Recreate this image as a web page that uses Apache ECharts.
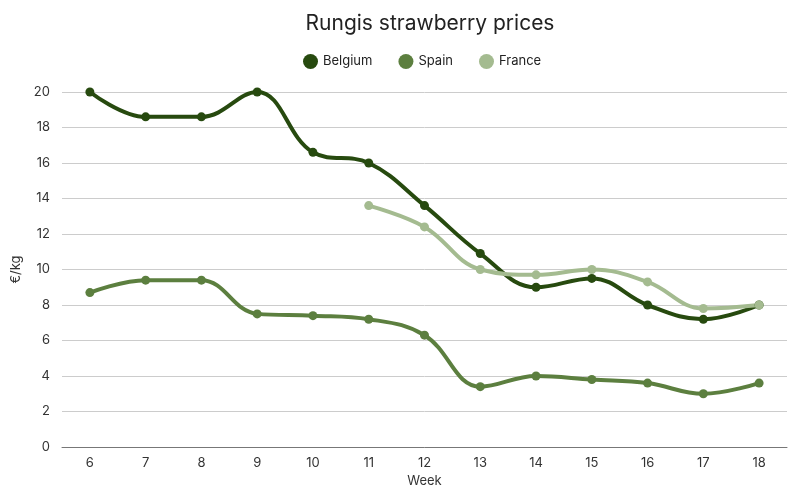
<!DOCTYPE html>
<html><head><meta charset="utf-8">
<script src="https://cdn.jsdelivr.net/npm/echarts@6/dist/echarts.min.js"></script>
<style>html,body{margin:0;padding:0;background:#fff}#c{width:800px;height:500px}</style>
</head><body><div id="c"></div>
<script>
const weeks = ['6','7','8','9','10','11','12','13','14','15','16','17','18'];
const belgium = [20, 18.6, 18.6, 20, 16.6, 16, 13.6, 10.9, 9, 9.5, 8, 7.2, 8];
const spain = [8.7, 9.4, 9.4, 7.5, 7.4, 7.2, 6.3, 3.4, 4, 3.8, 3.6, 3.0, 3.6];
const france = [null, null, null, null, null, 13.6, 12.4, 10, 9.7, 10, 9.3, 7.8, 8];
const yTicks = [0, 2, 4, 6, 8, 10, 12, 14, 16, 18, 20];

const font = 'Inter, "Noto Sans", sans-serif';
const chart = echarts.init(document.getElementById('c'), null, {renderer: 'canvas'});
function s(name, data, color) {
  return {name, type: 'line', data, smooth: 0.4, symbol: 'circle', symbolSize: 9,
    showSymbol: true, connectNulls: false,
    lineStyle: {width: 4, color}, itemStyle: {color}};
}
chart.setOption({
  animation: false,
  color: ['#274a0f', '#5c7f3f', '#a4bb90'],
  title: {text: 'Rungis strawberry prices', left: 425, textAlign: 'center', top: 8,
    textStyle: {fontFamily: font, fontSize: 21, fontWeight: 'normal', color: '#222'}},
  legend: {top: 49, left: 298, icon: 'circle', itemWidth: 15, itemHeight: 15, itemGap: 26,
    textStyle: {fontFamily: font, fontSize: 13, color: '#222'}},
  grid: {left: 62, right: 13, top: 92, bottom: 53},
  xAxis: {type: 'category', data: weeks, boundaryGap: true,
    name: 'Week', nameLocation: 'middle', nameGap: 26,
    nameTextStyle: {fontFamily: font, fontSize: 13, color: '#333'},
    axisLine: {show: true, lineStyle: {color: '#777'}}, axisTick: {show: false},
    axisLabel: {fontFamily: font, fontSize: 13, color: '#333', margin: 10}},
  yAxis: {type: 'value', min: yTicks[0], max: yTicks[yTicks.length-1], interval: 2,
    name: '€/kg', nameLocation: 'middle', nameGap: 29,
    nameTextStyle: {fontFamily: font, fontSize: 13, color: '#333'},
    axisLabel: {fontFamily: font, fontSize: 13, color: '#333', margin: 12},
    splitLine: {lineStyle: {color: '#cccccc', width: 1}}},
  series: [s('Belgium', belgium, '#274a0f'), s('Spain', spain, '#5c7f3f'), s('France', france, '#a4bb90')]
});
</script></body></html>
